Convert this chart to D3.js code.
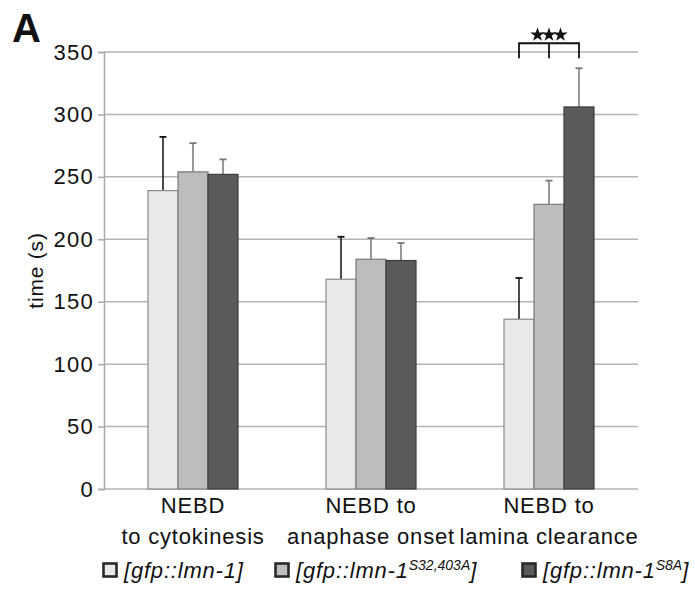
<!DOCTYPE html>
<html>
<head>
<meta charset="utf-8">
<script src="https://cdn.jsdelivr.net/npm/d3@7"></script>
<style>
  body { margin: 0; background: #fff; }
  svg text { font-family: "Liberation Sans", Arial, Helvetica, sans-serif; fill: #111; }
</style>
</head>
<body>
<script>

var categories = [['NEBD', 'to cytokinesis'], ['NEBD to', 'anaphase onset'], ['NEBD to', 'lamina clearance']]
var strains = ['wt', 's32', 's8a']

var meanWt  = [239, 168, 136]
var meanS32 = [254, 184, 228]
var meanS8a = [252, 183, 306]

var errWt  = [43, 34, 33]
var errS32 = [23, 17, 19]
var errS8a = [12, 14, 31]

var yTicks = [0, 50, 100, 150, 200, 250, 300, 350]

var colors = {wt: '#e9e9e9', s32: '#bdbdbd', s8a: '#5a5a5a'}
var strokes = {wt: '#8a8a8a', s32: '#7a7a7a', s8a: '#3d3d3d'}
var errColors = {wt: '#111', s32: '#777', s8a: '#777'}

var means = {wt: meanWt, s32: meanS32, s8a: meanS8a}
var errs = {wt: errWt, s32: errS32, s8a: errS8a}

var margin = {left: 104, top: 52, right: 57, bottom: 104}
var width = 695, height = 593
var innerW = width - margin.left - margin.right
var innerH = height - margin.top - margin.bottom

var svg = d3.select('body').append('svg')
  .attr('width', width).attr('height', height)

var g = svg.append('g').attr('transform', `translate(${margin.left},${margin.top})`)

var x = d3.scaleBand().domain(d3.range(categories.length)).range([0, innerW])
var xs = d3.scaleBand().domain(strains).range([-45, 45])
var y = d3.scaleLinear().domain([0, 350]).range([innerH, 0])

// gridlines
g.selectAll('line.grid').data(yTicks).join('line')
  .attr('x1', 0).attr('x2', innerW)
  .attr('y1', d => y(d)).attr('y2', d => y(d))
  .attr('stroke', '#b5b5b5').attr('stroke-width', 1.5)

// y axis
var yAxis = g.append('g').call(d3.axisLeft(y).tickValues(yTicks).tickSize(6).tickPadding(4))
yAxis.select('.domain').attr('stroke', '#aaa').attr('stroke-width', 1.5)
yAxis.selectAll('.tick line').attr('stroke', '#aaa').attr('stroke-width', 1.5)
yAxis.selectAll('.tick text').attr('font-size', 22).attr('fill', '#111').attr('letter-spacing', 1.3)
  .attr('font-family', '"Liberation Sans", Arial, sans-serif')

// bars
var rows = []
categories.forEach((c, i) => strains.forEach(s => rows.push({i, s, v: means[s][i], e: errs[s][i]})))

var barG = g.selectAll('g.bar').data(rows).join('g')
  .attr('transform', d => `translate(${x(d.i) + x.bandwidth() / 2},0)`)

barG.append('line')
  .attr('x1', d => xs(d.s) + xs.bandwidth() / 2).attr('x2', d => xs(d.s) + xs.bandwidth() / 2)
  .attr('y1', d => y(d.v)).attr('y2', d => y(d.v + d.e))
  .attr('stroke', d => errColors[d.s]).attr('stroke-width', 1.5)

barG.append('line')
  .attr('x1', d => xs(d.s) + xs.bandwidth() / 2 - 3.5).attr('x2', d => xs(d.s) + xs.bandwidth() / 2 + 3.5)
  .attr('y1', d => y(d.v + d.e)).attr('y2', d => y(d.v + d.e))
  .attr('stroke', d => errColors[d.s]).attr('stroke-width', 1.8)

barG.append('rect')
  .attr('x', d => xs(d.s)).attr('width', xs.bandwidth())
  .attr('y', d => y(d.v)).attr('height', d => y(0) - y(d.v))
  .attr('fill', d => colors[d.s]).attr('stroke', d => strokes[d.s]).attr('stroke-width', 1.2)

// category labels
var catG = g.selectAll('text.cat').data(categories).join('text')
  .attr('text-anchor', 'middle').attr('font-size', 22).attr('letter-spacing', 0.8)
  .attr('transform', (d, i) => `translate(${x(i) + x.bandwidth() / 2},${innerH + 24})`)
catG.selectAll('tspan').data(d => d).join('tspan')
  .attr('x', 0).attr('dy', (d, j) => j ? 31 : 0).text(d => d)

// significance bracket on the last group
var cx = x(2) + x.bandwidth() / 2
var bx1 = cx + xs('wt') + xs.bandwidth() / 2
var bx2 = cx + xs('s8a') + xs.bandwidth() / 2
var by = y(357)
g.append('path')
  .attr('d', `M${bx1},${by + 15}V${by}H${bx2}V${by + 15}M${cx},${by}V${by + 15}`)
  .attr('fill', 'none').attr('stroke', '#111').attr('stroke-width', 1.8)
g.selectAll('path.star').data([-11.5, 0, 11.5]).join('path')
  .attr('d', d3.symbol(d3.symbolStar, 64))
  .attr('transform', d => `translate(${cx + d},${by - 8.5})`)
  .attr('fill', '#111')

// y title
svg.append('text')
  .attr('transform', `translate(43,${margin.top + innerH / 2}) rotate(-90)`)
  .attr('text-anchor', 'middle').attr('font-size', 21).attr('letter-spacing', 0.8).text('time (s)')

// panel letter
svg.append('text').attr('x', 12).attr('y', 42).attr('font-size', 40).attr('font-weight', 'bold').text('A')

// legend
var legend = [
  {s: 'wt', x: 102, base: '[gfp::lmn-1]', sup: '', end: ''},
  {s: 's32', x: 274, base: '[gfp::lmn-1', sup: 'S32,403A', end: ']'},
  {s: 's8a', x: 521, base: '[gfp::lmn-1', sup: 'S8A', end: ']'}
]
var lg = svg.selectAll('g.leg').data(legend).join('g')
  .attr('transform', d => `translate(${d.x},570)`)
lg.append('rect').attr('x', 1.5).attr('y', -6.5).attr('width', 13).attr('height', 13)
  .attr('fill', d => colors[d.s]).attr('stroke', '#2a2a2a').attr('stroke-width', 2.6)
var lt = lg.append('text').attr('x', 22).attr('y', 8).attr('font-size', 22)
  .attr('font-style', 'italic').attr('letter-spacing', 0.8)
lt.append('tspan').text(d => d.base)
lt.append('tspan').attr('font-size', 14).attr('letter-spacing', 0).attr('dy', -8).text(d => d.sup)
lt.append('tspan').attr('dy', d => d.sup ? 8 : 0).text(d => d.end)

</script>
</body>
</html>
